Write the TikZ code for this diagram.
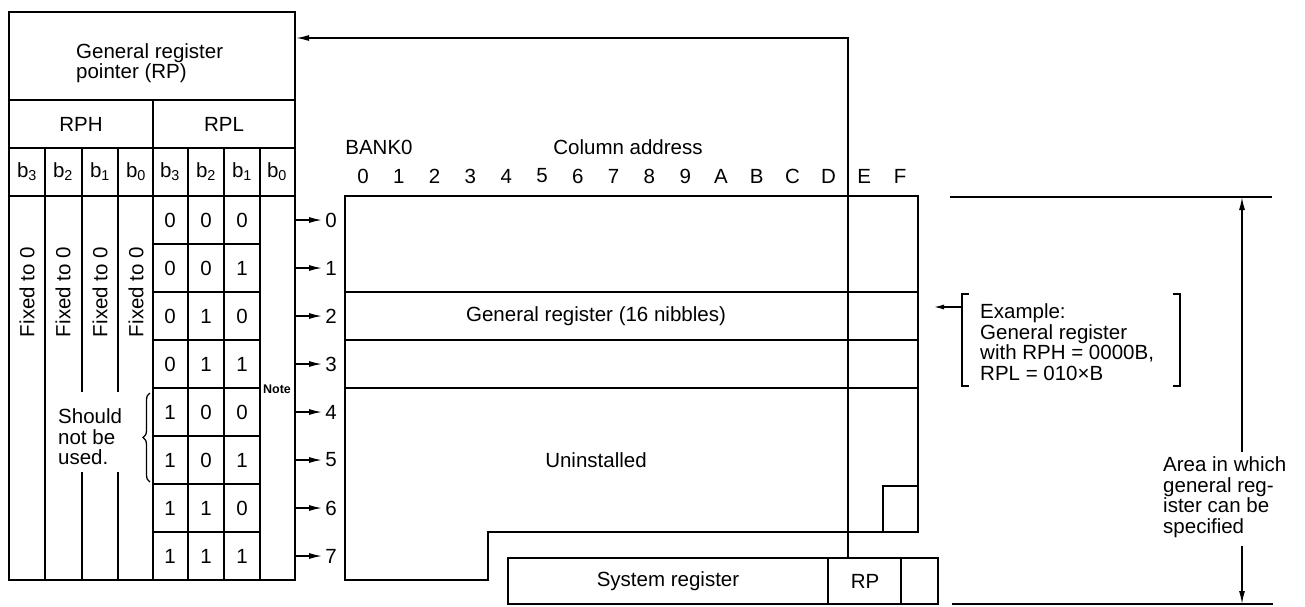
\documentclass[tikz,border=0pt]{standalone}
\usepackage{fontspec}
\setmainfont{Liberation Sans}
\usetikzlibrary{arrows.meta,decorations.pathreplacing}
\newcommand{\bitno}[1]{b\textsubscript{#1}}

\begin{document}
\begin{tikzpicture}[
    x=1pt, y=-1pt,
    >={Latex[length=13pt,width=6pt]},
    every node/.style={font=\fontsize{20.5}{20.5}\selectfont, inner sep=0pt},
    frame/.style={line width=2.8pt},
    cell/.style={line width=1.5pt},
    rowarr/.style={->, line width=1.5pt, shorten >=3pt},
    fixed/.style={rotate=90},
    notetxt/.style={font=\fontsize{12.5}{12.5}\selectfont\bfseries}
]
    \useasboundingbox (0,0) rectangle (1305,606);

    % register pointer table
    \node[draw, frame, minimum width=286pt, minimum height=568pt] (gtab) at (152,296) {};
    \draw[cell] (9,100) -- (295,100);
    \draw[cell] (9,148) -- (295,148);
    \draw[frame] (9,196) -- (295,196);
    \draw[cell] (153,100) -- (153,580);
    \draw[cell] (45,148) -- (45,580);
    \draw[cell] (82,148) -- (82,392) (82,472) -- (82,580);
    \draw[cell] (118,148) -- (118,392) (118,472) -- (118,580);
    \draw[cell] (188,148) -- (188,580);
    \draw[cell] (224,148) -- (224,580);
    \draw[cell] (260,148) -- (260,580);
    \draw[cell] (153,244) -- (260,244) (153,292) -- (260,292) (153,340) -- (260,340)
                (153,388) -- (260,388) (153,436) -- (260,436) (153,484) -- (260,484)
                (153,532) -- (260,532);
    \node[anchor=west, align=left] (gtitle) at (76,63) {General register\\pointer (RP)};
    \node (rph) at (81,124) {RPH};
    \node (rpl) at (224,124) {RPL};
    \node (h3) at (27,172) {\bitno{3}};
    \node (h2) at (63,172) {\bitno{2}};
    \node (h1) at (100,172) {\bitno{1}};
    \node (h0) at (136,172) {\bitno{0}};
    \node (l3) at (170,172) {\bitno{3}};
    \node (l2) at (206,172) {\bitno{2}};
    \node (l1) at (242,172) {\bitno{1}};
    \node (l0) at (277,172) {\bitno{0}};
    \node[fixed] (fx3) at (27,292) {Fixed to 0};
    \node[fixed] (fx2) at (63,292) {Fixed to 0};
    \node[fixed] (fx1) at (100,292) {Fixed to 0};
    \node[fixed] (fx0) at (136,292) {Fixed to 0};
    \node (v0a) at (170,220) {0}; \node (v0b) at (206,220) {0}; \node (v0c) at (242,220) {0};
    \node (v1a) at (170,268) {0}; \node (v1b) at (206,268) {0}; \node (v1c) at (242,268) {1};
    \node (v2a) at (170,316) {0}; \node (v2b) at (206,316) {1}; \node (v2c) at (242,316) {0};
    \node (v3a) at (170,364) {0}; \node (v3b) at (206,364) {1}; \node (v3c) at (242,364) {1};
    \node (v4a) at (170,412) {1}; \node (v4b) at (206,412) {0}; \node (v4c) at (242,412) {0};
    \node (v5a) at (170,460) {1}; \node (v5b) at (206,460) {0}; \node (v5c) at (242,460) {1};
    \node (v6a) at (170,508) {1}; \node (v6b) at (206,508) {1}; \node (v6c) at (242,508) {0};
    \node (v7a) at (170,556) {1}; \node (v7b) at (206,556) {1}; \node (v7c) at (242,556) {1};
    \node[anchor=west, align=left] (nouse) at (58,437) {Should\\not be\\used.};
    \draw[line width=1.3pt, decorate, decoration={brace, amplitude=7pt}] (150,482) -- (150,393);
    \node[notetxt] (note) at (277,389) {Note};

    % row numbers
    \node (r0) at (331,220) {0};
    \node (r1) at (331,268) {1};
    \node (r2) at (331,316) {2};
    \node (r3) at (331,364) {3};
    \node (r4) at (331,412) {4};
    \node (r5) at (331,460) {5};
    \node (r6) at (331,508) {6};
    \node (r7) at (331,556) {7};
    \draw[rowarr] (gtab.east |- r0) -- (r0.west);
    \draw[rowarr] (gtab.east |- r1) -- (r1.west);
    \draw[rowarr] (gtab.east |- r2) -- (r2.west);
    \draw[rowarr] (gtab.east |- r3) -- (r3.west);
    \draw[rowarr] (gtab.east |- r4) -- (r4.west);
    \draw[rowarr] (gtab.east |- r5) -- (r5.west);
    \draw[rowarr] (gtab.east |- r6) -- (r6.west);
    \draw[rowarr] (gtab.east |- r7) -- (r7.west);

    % data memory, bank 0
    \draw[frame] (345,196) -- (918,196) -- (918,532) -- (488,532) -- (488,580) -- (345,580) -- cycle;
    \draw[cell] (345,292) -- (918,292) (345,340) -- (918,340) (345,388) -- (918,388);
    \draw[cell] (883,532) -- (883,486) -- (918,486);
    \node (bank) at (379,147) {BANK0};
    \node (coladr) at (628,147) {Column address};
    \node (c0) at (363,176) {0};   \node (c1) at (398.8,176) {1};
    \node (c2) at (434.6,176) {2}; \node (c3) at (470.4,176) {3};
    \node (c4) at (506.2,176) {4}; \node (c5) at (542,176) {5};
    \node (c6) at (577.8,176) {6}; \node (c7) at (613.6,176) {7};
    \node (c8) at (649.4,176) {8}; \node (c9) at (685.2,176) {9};
    \node (cA) at (721,176) {A};   \node (cB) at (756.8,176) {B};
    \node (cC) at (792.6,176) {C}; \node (cD) at (828.4,176) {D};
    \node (cE) at (864.2,176) {E}; \node (cF) at (900,176) {F};
    \node (genreg) at (596,316) {General register (16 nibbles)};
    \node (uninst) at (596,460) {Uninstalled};

    % system register
    \draw[frame] (508,558) rectangle (938,604);
    \draw[cell] (828,558) -- (828,604) (901,558) -- (901,604);
    \node (sysreg) at (668,581) {System register};
    \node (rpcell) at (865,581) {RP};
    \coordinate (rpsrc) at (848,558);
    \coordinate (rpdst) at (296,38);
    \draw[cell, ->] (rpsrc) |- (rpdst);

    % example
    \node[anchor=west, align=left] (example) at (980,342) {Example:\\General register\\with RPH = 0000B,\\RPL = 010×B};
    \draw[cell] (969,294) -- (962,294) -- (962,386) -- (969,386);
    \draw[cell] (1173,294) -- (1180,294) -- (1180,386) -- (1173,386);
    \coordinate (exfrom) at (962,307);
    \coordinate (exto) at (934,307);
    \draw[line width=1.2pt, -{Latex[length=10pt,width=5pt]}] (exfrom) -- (exto);

    % specifiable area
    \draw[cell] (950,197) -- (1272,197);
    \draw[cell] (952,604) -- (1273,604);
    \node[anchor=west, align=left] (area) at (1163,497) {Area in which\\general reg-\\ister can be\\specified};
    \coordinate (areatop) at (1242,197);
    \coordinate (areabot) at (1242,604);
    \draw[cell, ->, shorten <=5pt] (areatop |- area.north) -- (areatop);
    \draw[cell, ->, shorten <=8pt] (areabot |- area.south) -- (areabot);
\end{tikzpicture}
\end{document}
